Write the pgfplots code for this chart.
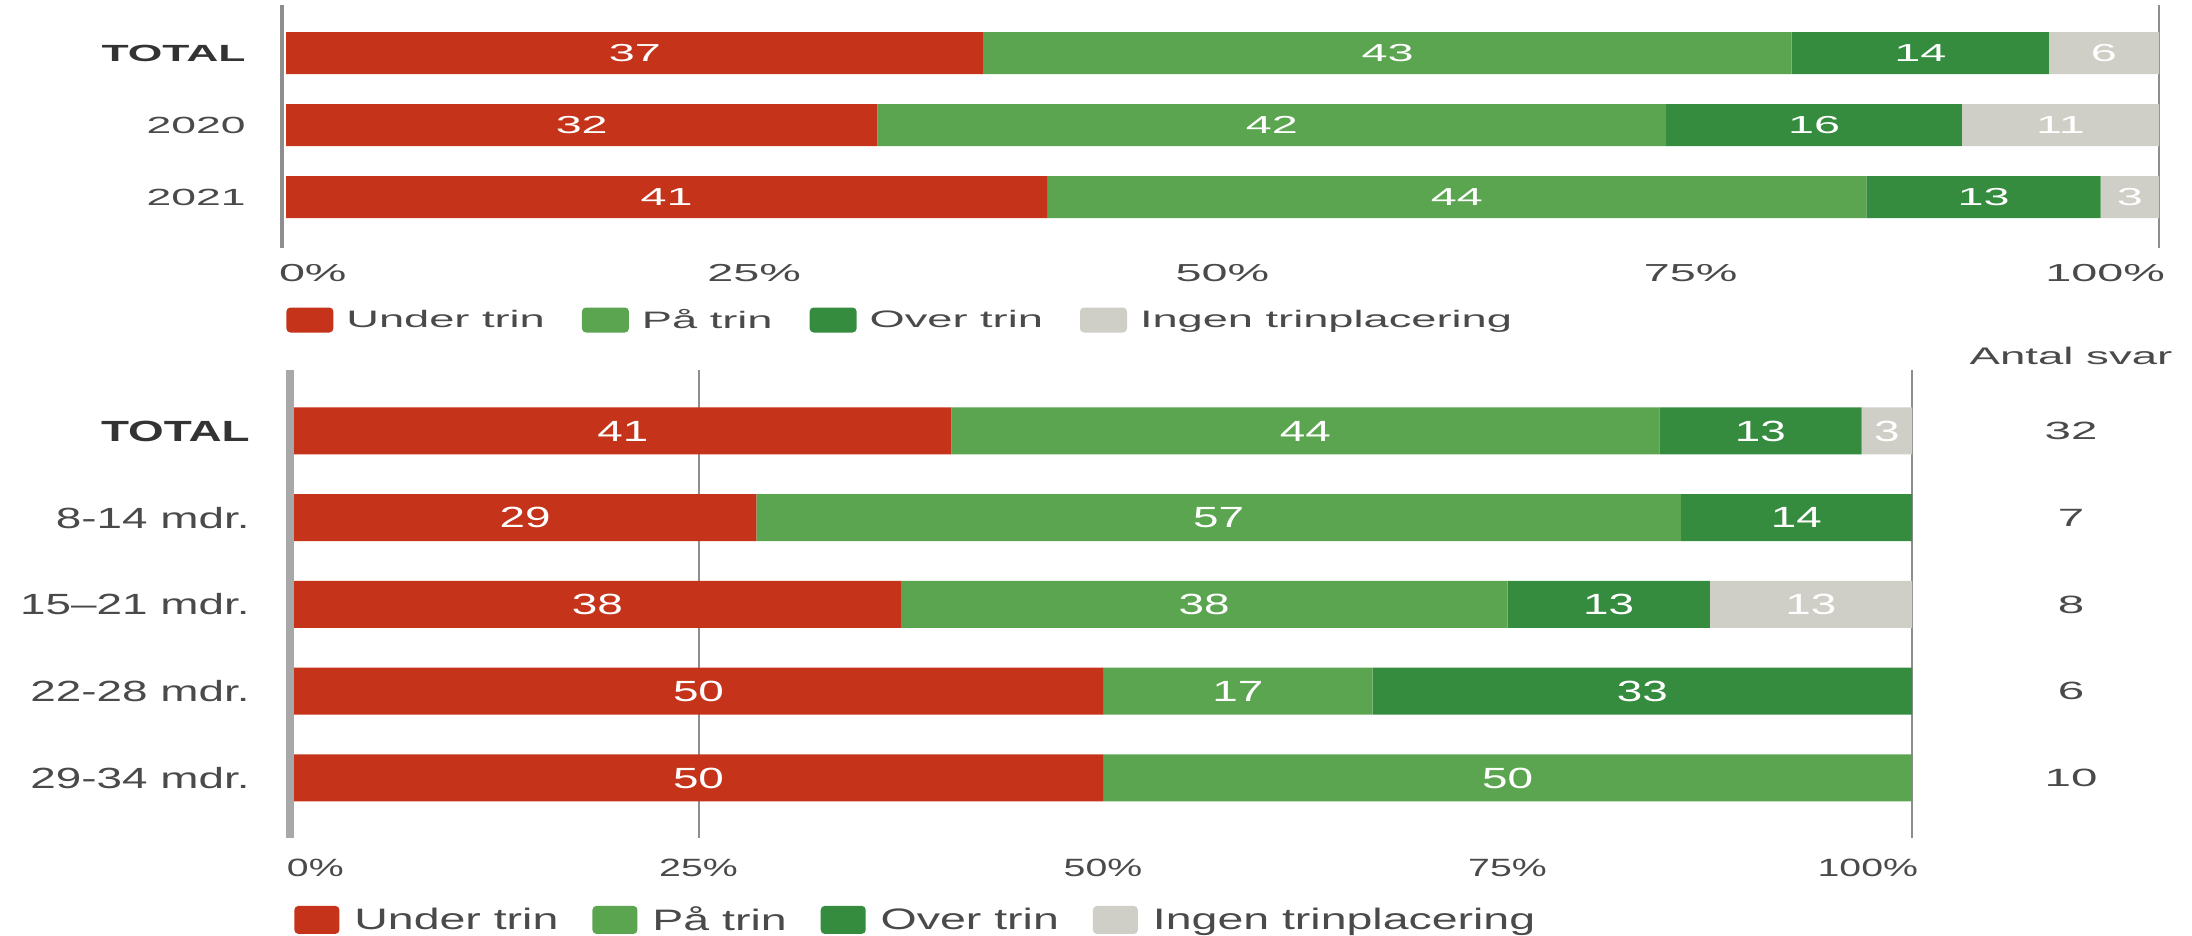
\documentclass[border=0pt]{standalone}
\usepackage{pgfplots}
\pgfplotsset{compat=1.18}
\usepackage{fontspec}
\setmainfont{Liberation Sans}
\newfontfamily\tfont{Liberation Sans}[FakeStretch=1.9]
\newfontfamily\bfont{Liberation Sans}[FakeStretch=1.57]
\newcommand\tf[1]{\tfont\fontsize{#1}{#1}\selectfont}
\newcommand\bff[1]{\bfont\fontsize{#1}{#1}\selectfont}
\definecolor{cRed}{HTML}{C4331A}
\definecolor{cLG}{HTML}{5BA550}
\definecolor{cDG}{HTML}{358C3F}
\definecolor{cGr}{HTML}{CFCEC7}
\definecolor{cTxt}{HTML}{4A4A4A}
\definecolor{cTot}{HTML}{333333}
\definecolor{cLine}{HTML}{8E8E8E}
\definecolor{cZero}{HTML}{A8A8A8}
\pgfplotsset{
  swt/.style={legend image code/.code={\fill[#1, rounded corners=2pt] (0pt,-6.25pt) rectangle (23.5pt,6.25pt);}},
  swb/.style={legend image code/.code={\fill[#1, rounded corners=2pt] (0pt,-7pt) rectangle (22.5pt,7pt);}},
  topgeom/.style={at={(143pt,-124pt)}, anchor=south west, scale only axis,
    width=936.5pt, height=121.5pt, xmin=0, xmax=100, ymin=-0.708, ymax=2.667},
  botgeom/.style={at={(147pt,-419pt)}, anchor=south west, scale only axis,
    width=809pt, height=234pt, xmin=0, xmax=100, ymin=-0.692, ymax=4.703},
  lbl/.style={only marks, mark=text, text mark={},
    nodes near coords, point meta=explicit symbolic},
}
\begin{document}
\begin{tikzpicture}
\useasboundingbox (0,0) rectangle (1096pt,-468pt);

% ---------------- TOP CHART ----------------
\begin{axis}[topgeom,
  xbar stacked, bar width=21pt,
  axis line style={draw=none}, major tick length=0pt,
  ytick={0,1,2}, yticklabels={2021,2020,{\bfseries\color{cTot}TOTAL}},
  yticklabel style={font=\tf{11.7}, text=cTxt, anchor=east, inner sep=0pt, xshift=-20pt},
  xtick={0,25,50,75,100},
  xticklabels={\makebox[0pt][l]{\hspace{-3.5pt}0\%},25\%,50\%,75\%,\makebox[0pt][r]{100\%\hspace{-3pt}}},
  xticklabel style={font=\tf{12.3}, text=cTxt, anchor=north, inner sep=0pt, yshift=-8pt},
  extra x ticks={100}, extra x tick labels={},
  extra x tick style={grid=major},
  major grid style={cLine, line width=1pt},
  legend columns=-1,
  legend style={at={(0,-0.2963)}, anchor=west, draw=none, fill=none, inner sep=0pt,
    font=\tf{11.9}, text=cTxt, column sep=6.5pt,
    /tikz/every even column/.append style={column sep=18.5pt},
    nodes={inner sep=0pt}},
]
\addplot[fill=cRed, draw=none, swt=cRed] coordinates {(37.25,2) (31.58,1) (40.63,0)};
\addplot[fill=cLG, draw=none, swt=cLG] coordinates {(43.14,2) (42.11,1) (43.75,0)};
\addplot[fill=cDG, draw=none, swt=cDG] coordinates {(13.73,2) (15.79,1) (12.50,0)};
\addplot[fill=cGr, draw=none, swt=cGr] coordinates {(5.88,2) (10.53,1) (3.12,0)};
\legend{Under trin, På trin, Over trin, Ingen trinplacering}
\end{axis}

\begin{axis}[topgeom, hide axis, clip=false]
\draw[cLine, line width=2pt] ([xshift=-2pt]axis cs:0,-0.708) -- ([xshift=-2pt]axis cs:0,2.667);
\addplot[lbl,
  every node near coord/.append style={anchor=center, font=\tf{12.3}, text=white, inner sep=0pt}]
  table[meta=l] {
x y l
18.63 2 37
58.82 2 43
87.26 2 14
97.06 2 6
15.79 1 32
52.63 1 42
81.59 1 16
94.74 1 11
20.32 0 41
62.51 0 44
90.63 0 13
98.44 0 3
};
\end{axis}

% ---------------- BOTTOM CHART ----------------
\begin{axis}[botgeom,
  xbar stacked, bar width=23.5pt,
  axis line style={draw=none}, major tick length=0pt,
  ytick={0,1,2,3,4}, yticklabels={29-34 mdr.,22-28 mdr.,15–21 mdr.,8-14 mdr.,{\bfseries\color{cTot}TOTAL}},
  yticklabel style={font=\bff{14.6}, text=cTxt, anchor=east, inner sep=0pt, xshift=-22pt},
  xtick={0,25,50,75,100},
  xticklabels={\makebox[0pt][l]{\hspace{-3.5pt}0\%},25\%,50\%,75\%,\makebox[0pt][r]{100\%\hspace{-3pt}}},
  xticklabel style={font=\bff{12.5}, text=cTxt, anchor=north, inner sep=0pt, yshift=-10.5pt},
  extra x ticks={25,100}, extra x tick labels={},
  extra x tick style={grid=major},
  major grid style={cLine, line width=1pt},
  legend columns=-1,
  legend style={at={(0,-0.175)}, anchor=west, draw=none, fill=none, inner sep=0pt,
    font=\bff{14.8}, text=cTxt, column sep=7.5pt,
    /tikz/every even column/.append style={column sep=17pt},
    nodes={inner sep=0pt}},
]
\addplot[fill=cRed, draw=none, swb=cRed] coordinates {(40.63,4) (28.57,3) (37.5,2) (50,1) (50,0)};
\addplot[fill=cLG, draw=none, swb=cLG] coordinates {(43.75,4) (57.14,3) (37.5,2) (16.67,1) (50,0)};
\addplot[fill=cDG, draw=none, swb=cDG] coordinates {(12.5,4) (14.29,3) (12.5,2) (33.33,1) (0,0)};
\addplot[fill=cGr, draw=none, swb=cGr] coordinates {(3.12,4) (0,3) (12.5,2) (0,1) (0,0)};
\legend{Under trin, På trin, Over trin, Ingen trinplacering}
\end{axis}

\begin{axis}[botgeom, hide axis, clip=false]
\draw[cZero, line width=4pt] ([xshift=-2pt]axis cs:0,-0.692) -- ([xshift=-2pt]axis cs:0,4.703);
\addplot[lbl,
  every node near coord/.append style={anchor=center, font=\bff{14.6}, text=white, inner sep=0pt}]
  table[meta=l] {
x y l
20.32 4 41
62.51 4 44
90.63 4 13
98.44 4 3
14.29 3 29
57.14 3 57
92.86 3 14
18.75 2 38
56.25 2 38
81.25 2 13
93.75 2 13
25.00 1 50
58.34 1 17
83.33 1 33
25.00 0 50
75.00 0 50
};
\addplot[lbl,
  every node near coord/.append style={anchor=center, font=\tf{12.5}, text=cTxt, inner sep=0pt}]
  table[meta=l] {
x y l
109.83 4 32
109.83 3 7
109.83 2 8
109.83 1 6
109.83 0 10
};
\node[font=\tf{12}, text=cTxt, anchor=center, inner sep=0pt] at (axis cs:109.83,4.865) {Antal svar};
\end{axis}
\end{tikzpicture}
\end{document}
